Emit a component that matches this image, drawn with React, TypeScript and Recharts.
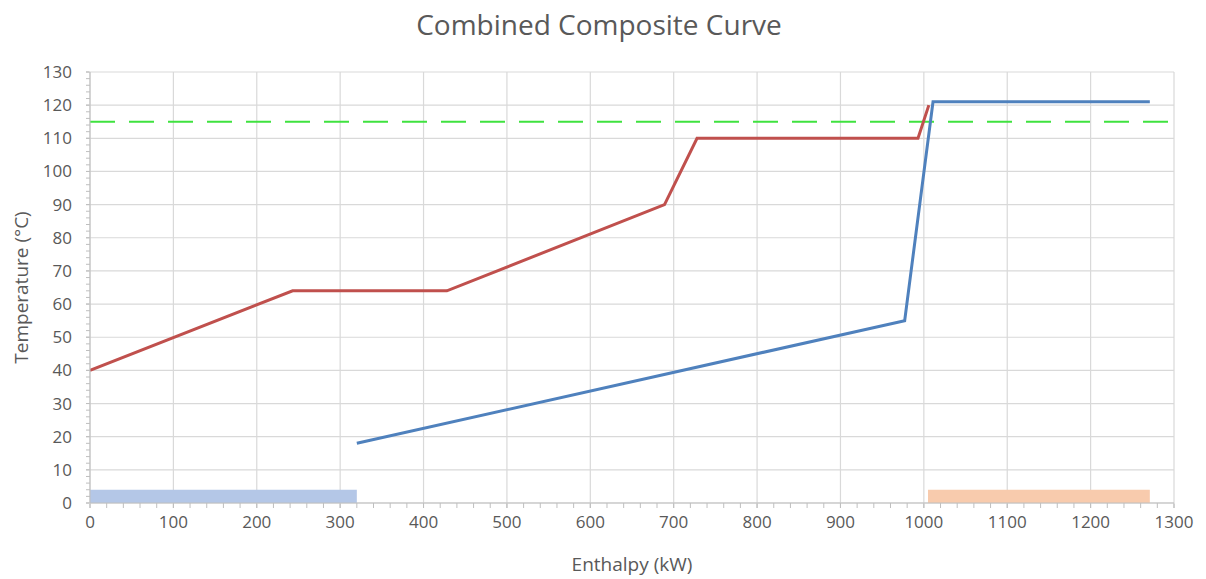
import React from "react";
import {
  LineChart,
  Line,
  XAxis,
  YAxis,
  CartesianGrid,
  ReferenceLine,
  ReferenceArea,
  Label,
} from "recharts";

// Hot composite curve (kW, °C)
const hotEnthalpy = [0, 243, 428, 689, 728, 993, 1006];
const hotTemp = [40, 64, 64, 90, 110, 110, 120];

// Cold composite curve (kW, °C)
const coldEnthalpy = [320, 977, 1011, 1271];
const coldTemp = [18, 55, 121, 121];

// Utility bars [start, end] in kW and bar height in °C
const coldUtility = [0, 320];
const hotUtility = [1005, 1271];
const utilityHeight = 4;

// Pinch / target temperature line
const targetTemp = 115;

// Axis ticks
const xMajorTicks = [0, 100, 200, 300, 400, 500, 600, 700, 800, 900, 1000, 1100, 1200, 1300];
const yMajorTicks = [0, 10, 20, 30, 40, 50, 60, 70, 80, 90, 100, 110, 120, 130];
const xMinorStep = 20;
const yMinorStep = 2;

const xMinorTicks: number[] = [];
for (let v = 0; v <= 1300; v += xMinorStep) xMinorTicks.push(v);
const yMinorTicks: number[] = [];
for (let v = 0; v <= 130; v += yMinorStep) yMinorTicks.push(v);

const hotData = hotEnthalpy.map((h, i) => ({ h, t: hotTemp[i] }));
const coldData = coldEnthalpy.map((h, i) => ({ h, t: coldTemp[i] }));

const FONT = "'Open Sans', sans-serif";
const TEXT = "#595959";
const AXIS = "#bfbfbf";

const NoLabel = () => <g />;

export default function App() {
  return (
    <div style={{ position: "relative", width: 1190, height: 571, fontFamily: FONT }}>
      <div
        style={{
          position: "absolute",
          left: 0,
          top: -3,
          width: 1182,
          textAlign: "center",
          fontSize: 28,
          color: TEXT,
          lineHeight: "38px",
        }}
      >
        Combined Composite Curve
      </div>
      <LineChart
        width={1190}
        height={571}
        data={hotData}
        margin={{ top: 64, right: 24, bottom: 41, left: 20 }}
      >
        <CartesianGrid stroke="#d9d9d9" strokeWidth={1.2} xAxisId="labels" yAxisId="labels" />
        {/* inner axes: carry the data, draw axis lines and minor ticks */}
        <XAxis
          dataKey="h"
          type="number"
          domain={[0, 1300]}
          allowDataOverflow
          ticks={xMinorTicks}
          interval={0}
          tick={<NoLabel />}
          tickSize={5}
          height={1}
          stroke={AXIS}
          tickLine={{ stroke: AXIS }}
          allowDuplicatedCategory={false}
        />
        <YAxis
          type="number"
          domain={[0, 130]}
          allowDataOverflow
          ticks={yMinorTicks}
          interval={0}
          tick={<NoLabel />}
          tickSize={4}
          width={1}
          stroke={AXIS}
          tickLine={{ stroke: AXIS }}
        />
        {/* outer axes: major tick labels and titles */}
        <XAxis
          xAxisId="labels"
          dataKey="h"
          type="number"
          domain={[0, 1300]}
          allowDataOverflow
          ticks={xMajorTicks}
          interval={0}
          tickSize={4}
          tickMargin={8}
          height={34}
          axisLine={false}
          stroke={AXIS}
          tick={{ fill: TEXT, fontSize: 17, fontFamily: FONT }}
          allowDuplicatedCategory={false}
        >
          <Label
            value="Enthalpy (kW)"
            position="bottom"
            offset={20}
            style={{ fontFamily: FONT, fontSize: 19, fill: TEXT }}
          />
        </XAxis>
        <YAxis
          yAxisId="labels"
          dataKey="t"
          type="number"
          domain={[0, 130]}
          allowDataOverflow
          ticks={yMajorTicks}
          interval={0}
          tickSize={3}
          tickMargin={14}
          width={61}
          axisLine={false}
          stroke={AXIS}
          tick={{ fill: TEXT, fontSize: 17, fontFamily: FONT }}
        >
          <Label
            value="Temperature (°C)"
            angle={-90}
            position="insideLeft"
            offset={-7}
            style={{ fontFamily: FONT, fontSize: 19, fill: TEXT, textAnchor: "middle" }}
          />
        </YAxis>
        <ReferenceArea
          x1={coldUtility[0]}
          x2={coldUtility[1]}
          y1={0}
          y2={utilityHeight}
          fill="#b4c7e7"
          fillOpacity={1}
          stroke="none"
        />
        <ReferenceArea
          x1={hotUtility[0]}
          x2={hotUtility[1]}
          y1={0}
          y2={utilityHeight}
          fill="#f8cbad"
          fillOpacity={1}
          stroke="none"
        />
        <ReferenceLine
          y={targetTemp}
          stroke="#3fe23f"
          strokeWidth={2}
          strokeDasharray="25 14"
        />
        <Line
          data={hotData}
          dataKey="t"
          type="linear"
          stroke="#c0504d"
          strokeWidth={3}
          dot={false}
          isAnimationActive={false}
        />
        <Line
          data={coldData}
          dataKey="t"
          type="linear"
          stroke="#4f81bd"
          strokeWidth={3}
          dot={false}
          isAnimationActive={false}
        />
      </LineChart>
    </div>
  );
}
